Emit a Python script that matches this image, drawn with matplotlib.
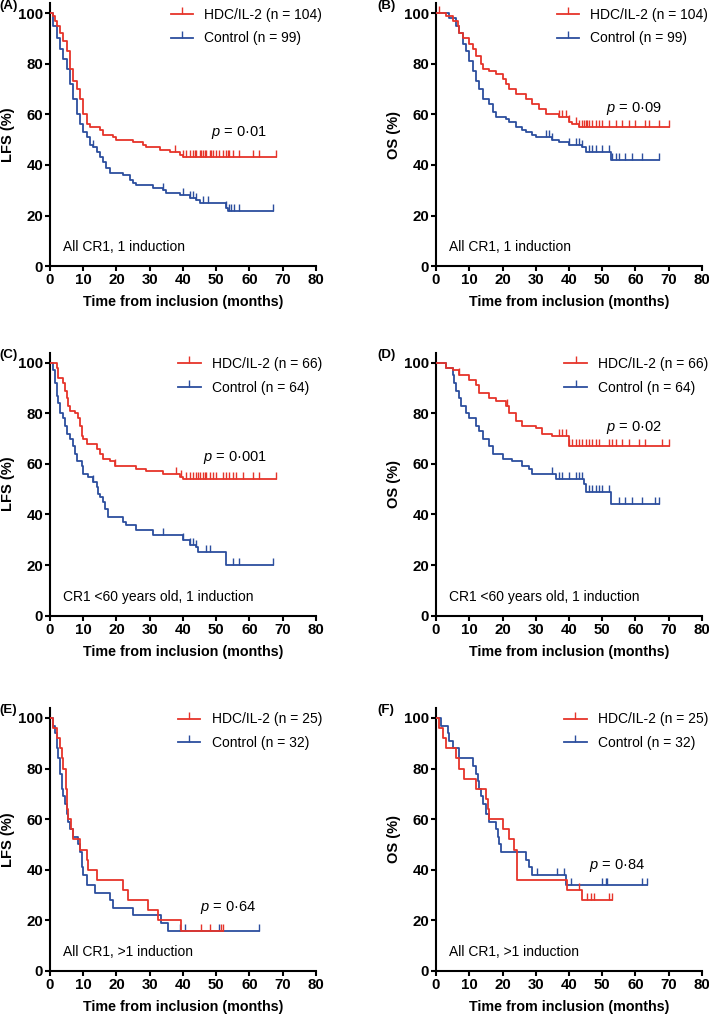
import matplotlib
matplotlib.use('Agg')
import matplotlib.pyplot as plt
import numpy as np
from matplotlib.lines import Line2D

plt.rcParams['font.family'] = ['Liberation Sans', 'DejaVu Sans']
plt.rcParams['mathtext.fontset'] = 'custom'
plt.rcParams['mathtext.it'] = 'Liberation Sans:italic'
plt.rcParams['mathtext.rm'] = 'Liberation Sans'

RED = '#e6342a'
BLUE = '#2c4e9e'

# ---- panel A : LFS, all CR1, 1 induction ----
a_red_t = [0, 1, 1.5, 2, 3, 4, 5, 6, 7, 8, 9, 10, 11, 12, 15, 16, 19, 20, 25, 28, 29, 33, 36, 39, 40]
a_red_s = [100, 99, 97, 95, 92, 89, 85, 78, 73, 70, 66, 60, 56, 55, 54, 52, 51, 50, 49, 48, 47, 46, 45, 44, 43]
a_red_end = 68
a_red_cens = [37.5, 40, 41, 42, 43, 43.5, 44, 45, 45.5, 46, 46.5, 47, 48, 48.5, 49, 50, 51, 52, 53, 53.5, 54, 55, 57, 61, 63, 68]
a_blue_t = [0, 1, 2, 3, 4, 5, 6, 7, 8, 9, 10, 11, 12, 13, 14, 15, 16, 17, 18, 22, 24, 25, 26, 31, 34, 35, 39, 42, 44, 45, 53, 53.5]
a_blue_s = [100, 95, 90, 86, 82, 78, 72, 66, 60, 56, 53, 51, 48, 47, 45, 43, 41, 39, 37, 36, 34, 33, 32, 31, 30, 29, 28, 27, 26, 25, 23, 22]
a_blue_end = 67
a_blue_cens = [13, 34, 40, 42, 43, 44, 46, 47.5, 53, 54, 54.5, 55.5, 57, 67]

# ---- panel B : OS, all CR1, 1 induction ----
b_red_t = [0, 3, 5, 6.5, 7, 8, 10, 11, 12, 13.5, 14, 16, 18, 20, 21, 22, 24, 27, 29, 31, 33, 37, 40, 41, 43]
b_red_s = [100, 99, 97, 95, 92, 90, 88, 86, 83, 80, 78, 77, 76, 74, 72, 70, 68, 66, 64, 62, 60, 59, 57, 56, 55]
b_red_end = 70
b_red_cens = [1, 37, 38, 39, 40, 42, 43, 44, 44.5, 45, 45.5, 46, 47, 48, 49, 50, 52, 54, 56, 58, 60, 63, 64, 67, 70]
b_blue_t = [0, 4, 6, 7, 8, 9, 10, 11, 12, 13, 14, 16, 17, 18, 21, 22, 24, 26, 27, 29, 30, 35, 37, 40, 44, 45, 52.5]
b_blue_s = [100, 98, 95, 92, 88, 85, 81, 77, 73, 70, 66, 64, 61, 59, 58, 57, 55, 54, 53, 52, 51, 50, 49, 48, 47, 45, 42]
b_blue_end = 67
b_blue_cens = [33, 34, 35, 40, 42, 43, 44, 46, 47, 48, 50, 52, 53, 54, 55, 57, 59, 62, 67]

# ---- panel C : LFS, CR1 <60 years, 1 induction ----
c_red_t = [0, 2, 2.5, 4, 4.5, 5, 5.5, 6, 7.5, 8.5, 9, 9.5, 10, 11, 14, 15, 16, 18, 19.5, 26, 29, 34, 39, 40]
c_red_s = [100, 98, 94, 92, 89, 86, 83, 81, 80, 78, 75, 71, 70, 68, 66, 64, 62, 61, 59, 58, 57, 56, 55, 54]
c_red_end = 68
c_red_cens = [19.5, 38, 39.5, 41, 42, 43, 44, 44.5, 45, 46, 46.5, 47, 48, 49, 50, 52, 53, 54, 55, 56, 58, 61, 63, 68]
c_blue_t = [0, 1, 1.5, 2, 2.5, 3, 4, 4.5, 5, 6, 7, 7.5, 8, 9.5, 10, 11.5, 13, 14, 14.5, 15, 16, 16.5, 17.5, 22, 23, 26, 31, 40, 42, 44, 44.5, 53]
c_blue_s = [100, 97, 92, 87, 84, 80, 78, 75, 72, 70, 67, 64, 61, 59, 56, 55, 53, 51, 48, 47, 45, 42, 39, 37, 36, 34, 32, 30, 28, 27, 25, 20]
c_blue_end = 67
c_blue_cens = [13, 34, 40, 42, 43, 44, 47, 48, 55, 57, 67]

# ---- panel D : OS, CR1 <60 years, 1 induction ----
d_red_t = [0, 3, 5, 7, 10, 12, 13, 16, 18, 21, 22, 24, 26, 30, 32, 35, 40]
d_red_s = [100, 98, 97, 95, 93, 91, 88, 86, 85, 83, 80, 77, 75, 74, 72, 71, 67]
d_red_end = 70
d_red_cens = [7, 21.5, 37, 38, 39, 40, 41, 42, 43, 44, 45, 46, 47, 48, 49, 52, 53, 54, 56, 58, 61, 63, 68, 70]
d_blue_t = [0, 3, 5, 5.5, 6, 7, 7.5, 9, 10, 12, 13, 14, 16, 17, 20, 23, 26, 28, 29, 36, 44.5, 45, 52.5]
d_blue_s = [100, 98, 95, 92, 89, 86, 83, 80, 78, 75, 73, 70, 67, 64, 62, 61, 59, 58, 56, 54, 52, 49, 44]
d_blue_end = 67
d_blue_cens = [35, 37, 38, 40, 42, 43, 44, 46, 47, 48, 49, 50, 52, 55, 57, 59, 62, 66, 67]

# ---- panel E : LFS, all CR1, >1 induction ----
e_red_t = [0, 1, 2, 3, 3.5, 4, 4.7, 5.2, 5.5, 6.2, 7, 9, 11, 11.5, 14, 22, 23.5, 29.5, 32.5, 39.5]
e_red_s = [100, 96, 92, 88, 84, 80, 72, 64, 60, 56, 52, 48, 44, 40, 36, 32, 28, 24, 20, 16]
e_red_end = 52
e_red_cens = [45.5, 48, 51.5, 52]
e_blue_t = [0, 1, 1.5, 2, 2.5, 3, 3.5, 4, 4.5, 5, 5.5, 6, 7, 8.5, 9, 9.5, 10, 11, 13.5, 18, 19, 25, 33.5, 35.5]
e_blue_s = [100, 97, 94, 88, 84, 78, 72, 69, 66, 62, 59, 56, 53, 50, 47, 41, 38, 34, 31, 28, 25, 22, 19, 16]
e_blue_end = 63
e_blue_cens = [39, 40.5, 51, 63]

# ---- panel F : OS, all CR1, >1 induction ----
f_red_t = [0, 1, 2, 3, 6, 7, 8.5, 12, 15, 15.5, 16, 20, 22, 23.5, 24.5, 39.5, 44]
f_red_s = [100, 96, 92, 88, 84, 80, 76, 72, 68, 64, 60, 56, 52, 48, 36, 32, 28]
f_red_end = 53
f_red_cens = [43, 45.5, 46.5, 47.5, 52, 53]
f_blue_t = [0, 1.5, 3.5, 4, 5, 7, 11, 12, 12.5, 13, 13.5, 14, 15, 16, 18, 18.5, 19, 19.5, 27, 28, 29, 39]
f_blue_s = [100, 97, 94, 91, 88, 84, 81, 78, 75, 72, 69, 66, 62, 59, 56, 53, 50, 47, 44, 41, 38, 34]
f_blue_end = 63.5
f_blue_cens = [30.5, 36.5, 38.5, 40.5, 50, 51, 51.5, 62, 63.5]

panels = [
    ('(A)', 'LFS (%)', '104', '99', '0·01', (48.5, 53), 'All CR1, 1 induction',
     (a_red_t, a_red_s, a_red_end, a_red_cens), (a_blue_t, a_blue_s, a_blue_end, a_blue_cens)),
    ('(B)', 'OS (%)', '104', '99', '0·09', (51, 62.5), 'All CR1, 1 induction',
     (b_red_t, b_red_s, b_red_end, b_red_cens), (b_blue_t, b_blue_s, b_blue_end, b_blue_cens)),
    ('(C)', 'LFS (%)', '66', '64', '0·001', (46, 62.5), 'CR1 <60 years old, 1 induction',
     (c_red_t, c_red_s, c_red_end, c_red_cens), (c_blue_t, c_blue_s, c_blue_end, c_blue_cens)),
    ('(D)', 'OS (%)', '66', '64', '0·02', (51, 74.5), 'CR1 <60 years old, 1 induction',
     (d_red_t, d_red_s, d_red_end, d_red_cens), (d_blue_t, d_blue_s, d_blue_end, d_blue_cens)),
    ('(E)', 'LFS (%)', '25', '32', '0·64', (45, 25), 'All CR1, >1 induction',
     (e_red_t, e_red_s, e_red_end, e_red_cens), (e_blue_t, e_blue_s, e_blue_end, e_blue_cens)),
    ('(F)', 'OS (%)', '25', '32', '0·84', (46, 41.5), 'All CR1, >1 induction',
     (f_red_t, f_red_s, f_red_end, f_red_cens), (f_blue_t, f_blue_s, f_blue_end, f_blue_cens)),
]

lefts = [0.0705, 0.615]
bottoms = [0.738, 0.394, 0.0443]
W, H = 0.375, 0.259


def draw_curve(ax, curve, color):
    t, s, end, cens = curve
    tt = list(t) + [end]
    ss = list(s) + [s[-1]]
    ax.step(tt, ss, where='post', color=color, lw=1.3, zorder=3)
    idx = np.searchsorted(np.array(t), np.array(cens), side='right') - 1
    cy = np.array(s)[idx]
    ax.plot(cens, cy, ls='none', marker=2, ms=5, mew=1.0, color=color, zorder=3)


fig = plt.figure(figsize=(7.09, 10.16), dpi=100)

for i, (lab, ylab, n1, n2, pval, ppos, sub, red, blue) in enumerate(panels):
    ax = fig.add_axes([lefts[i % 2], bottoms[i // 2], W, H])
    draw_curve(ax, blue, BLUE)
    draw_curve(ax, red, RED)
    ax.set_xlim(0, 80)
    ax.set_ylim(0, 104)
    ax.set_xticks(range(0, 81, 10))
    ax.set_yticks(range(0, 101, 20))
    for sp in ['top', 'right']:
        ax.spines[sp].set_visible(False)
    for sp in ['left', 'bottom']:
        ax.spines[sp].set_linewidth(1.5)
    ax.tick_params(width=1.5, length=3.8, labelsize=10.8, pad=1.2)
    for tl in ax.get_xticklabels() + ax.get_yticklabels():
        tl.set_fontweight('bold')
    ax.set_xlabel('Time from inclusion (months)', fontsize=10.3, fontweight='bold', labelpad=6)
    ax.set_ylabel(ylab, fontsize=10.5, fontweight='bold', labelpad=2)

    ax.text(ppos[0], ppos[1], '$p$ = ' + pval, fontsize=10.5, va='center')
    ax.text(4, 7.5, sub, fontsize=10, va='center')

    handles = [Line2D([], [], color=RED, lw=1.3, marker=2, ms=5, mew=1.0),
               Line2D([], [], color=BLUE, lw=1.3, marker=2, ms=5, mew=1.0)]
    ax.legend(handles, ['HDC/IL-2 (n = %s)' % n1, 'Control (n = %s)' % n2],
              loc='upper right', bbox_to_anchor=(1.07, 1.03), frameon=False,
              fontsize=10, handlelength=1.6, handletextpad=0.8, labelspacing=0.7, numpoints=1)

    if i % 2 == 0:
        ax.text(-0.19, 0.99, lab, transform=ax.transAxes, fontsize=9.5, fontweight='bold', va='center')
    else:
        ax.text(-0.22, 0.99, lab, transform=ax.transAxes, fontsize=9.5, fontweight='bold', va='center')

fig.savefig('out.png', dpi=100)
